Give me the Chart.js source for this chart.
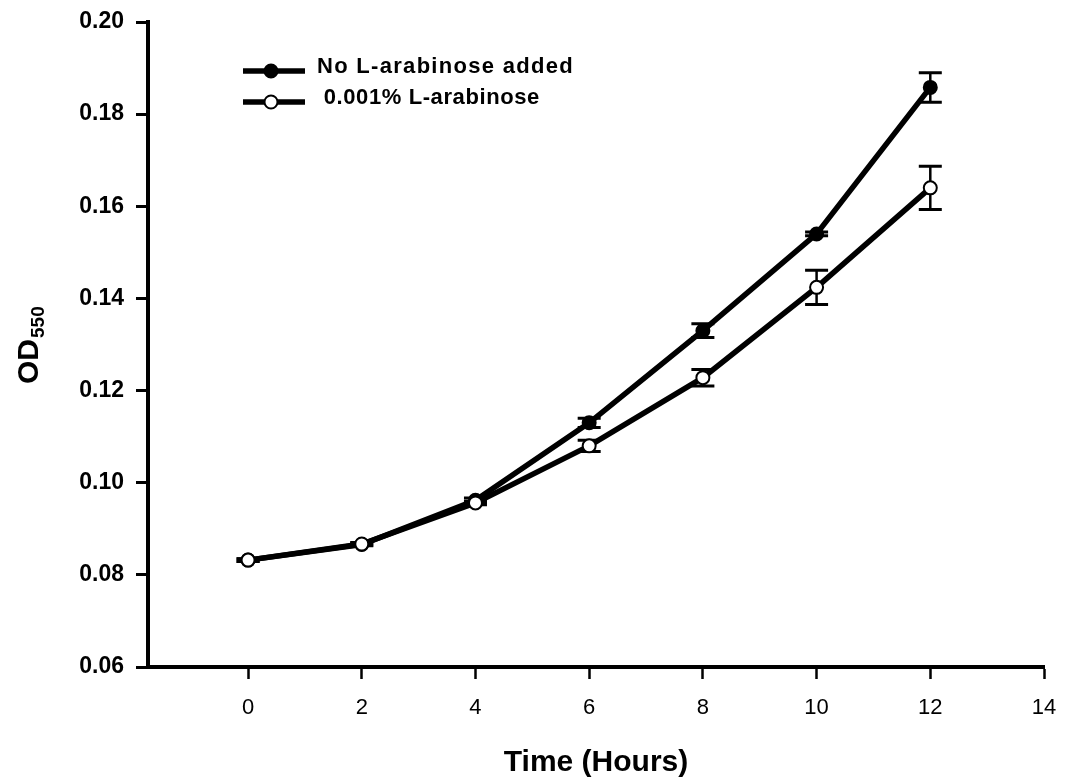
<!DOCTYPE html>
<html>
<head>
<meta charset="utf-8">
<script src="https://cdn.jsdelivr.net/npm/chart.js@4.4.1/dist/chart.umd.min.js"></script>
<style>
  html, body { margin: 0; padding: 0; background: #fff; }
  canvas { display: block; }
</style>
</head>
<body>
<canvas id="growth" width="1067" height="783"></canvas>
<script>
// Growth curve data (OD550 vs. time)
const TIME_H = [0, 2, 4, 6, 8, 10, 12];
const OD_NO_ARA = [0.0832, 0.0866, 0.0962, 0.1130, 0.1330, 0.1540, 0.1858];
const SD_NO_ARA = [0.0003, 0.0003, 0.0005, 0.0010, 0.0015, 0.0004, 0.0032];
const OD_ARA = [0.0832, 0.0867, 0.0956, 0.1080, 0.1228, 0.1424, 0.1640];
const SD_ARA = [0.0003, 0.0003, 0.0004, 0.0012, 0.0018, 0.0037, 0.0047];

const SERIES_LABELS = ['No L-arabinose added', ' 0.001% L-arabinose'];
const X_TICKS = [0, 2, 4, 6, 8, 10, 12, 14];
const Y_TICKS = [0.06, 0.08, 0.10, 0.12, 0.14, 0.16, 0.18, 0.20];

const FONT = "'Liberation Sans', Arial, sans-serif";

const toPoints = (ys) => TIME_H.map((t, i) => ({ x: t, y: ys[i] }));

// Vertical error bars with caps, drawn underneath the markers
const errorBars = {
  id: 'errorBars',
  beforeDatasetsDraw(chart) {
    const ctx = chart.ctx;
    const yScale = chart.scales.y;
    ctx.save();
    ctx.strokeStyle = '#000';
    chart.data.datasets.forEach((ds, di) => {
      const meta = chart.getDatasetMeta(di);
      meta.data.forEach((pt, i) => {
        const v = ds.data[i].y, e = ds.errors[i];
        const yTop = yScale.getPixelForValue(v + e);
        const yBot = yScale.getPixelForValue(v - e);
        ctx.lineWidth = 2.5;
        ctx.beginPath();
        ctx.moveTo(pt.x, yTop);
        ctx.lineTo(pt.x, yBot);
        ctx.stroke();
        ctx.lineWidth = 3;
        ctx.beginPath();
        ctx.moveTo(pt.x - 11.5, yTop);
        ctx.lineTo(pt.x + 11.5, yTop);
        ctx.moveTo(pt.x - 11.5, yBot);
        ctx.lineTo(pt.x + 11.5, yBot);
        ctx.stroke();
      });
    });
    ctx.restore();
  }
};

// Legend, axis titles (OD with subscript)
const annotations = {
  id: 'annotations',
  afterDraw(chart) {
    const ctx = chart.ctx;
    const area = chart.chartArea;
    ctx.save();
    ctx.fillStyle = '#000';
    ctx.strokeStyle = '#000';

    // legend entries
    const rows = [71, 102];
    chart.data.datasets.forEach((ds, i) => {
      const y = rows[i];
      ctx.lineWidth = 5.5;
      ctx.beginPath();
      ctx.moveTo(243, y);
      ctx.lineTo(305, y);
      ctx.stroke();
      ctx.beginPath();
      ctx.arc(271, y, 6.5, 0, Math.PI * 2);
      ctx.fillStyle = ds.pointBackgroundColor;
      ctx.fill();
      ctx.lineWidth = 2;
      ctx.stroke();
      ctx.fillStyle = '#000';
      ctx.font = `bold 22px ${FONT}`;
      ctx.textBaseline = 'alphabetic';
      ctx.textAlign = 'left';
      ctx.letterSpacing = i === 0 ? '1.3px' : '0.6px';
      ctx.fillText(SERIES_LABELS[i], 317, y + 2);
    });
    ctx.letterSpacing = '0px';

    // x title
    ctx.font = `bold 30px ${FONT}`;
    ctx.textAlign = 'center';
    ctx.fillText('Time (Hours)', (area.left + area.right) / 2, 771);

    // y title, rotated, with subscript
    ctx.translate(38, 384);
    ctx.rotate(-Math.PI / 2);
    ctx.textAlign = 'left';
    ctx.font = `bold 30px ${FONT}`;
    ctx.fillText('OD', 0, 0);
    const w = ctx.measureText('OD').width;
    ctx.font = `bold 19px ${FONT}`;
    ctx.fillText('550', w + 1, 6);
    ctx.restore();
  }
};

new Chart(document.getElementById('growth'), {
  type: 'line',
  data: {
    datasets: [
      {
        label: SERIES_LABELS[0],
        data: toPoints(OD_NO_ARA),
        errors: SD_NO_ARA,
        borderColor: '#000',
        borderWidth: 5.5,
        pointRadius: 6.5,
        pointBorderWidth: 2,
        pointBorderColor: '#000',
        pointBackgroundColor: '#000',
        fill: false,
        tension: 0,
        order: 1
      },
      {
        label: SERIES_LABELS[1],
        data: toPoints(OD_ARA),
        errors: SD_ARA,
        borderColor: '#000',
        borderWidth: 5.5,
        pointRadius: 6.5,
        pointBorderWidth: 2,
        pointBorderColor: '#000',
        pointBackgroundColor: '#fff',
        fill: false,
        tension: 0,
        order: 0
      }
    ]
  },
  options: {
    responsive: false,
    animation: false,
    devicePixelRatio: 1,
    layout: { padding: { top: 22, right: 23, left: 0, bottom: 0 } },
    plugins: {
      legend: { display: false },
      tooltip: { enabled: false }
    },
    scales: {
      x: {
        type: 'linear',
        min: -1.76,
        max: 14,
        afterBuildTicks: (s) => { s.ticks = X_TICKS.map(v => ({ value: v })); },
        afterFit: (s) => {
          s.height = 116;
          s.paddingLeft = 0;
          s.paddingRight = 0;
        },
        border: { color: '#000', width: 4 },
        grid: { drawOnChartArea: false, drawTicks: true, tickLength: 12, tickWidth: 2.5, tickColor: '#000', color: '#000' },
        ticks: {
          color: '#000',
          padding: 16,
          maxRotation: 0,
          font: { family: FONT, size: 22 }
        }
      },
      y: {
        min: 0.06,
        max: 0.20,
        afterBuildTicks: (s) => { s.ticks = Y_TICKS.map(v => ({ value: v })); },
        afterFit: (s) => {
          s.width = 148;
          s.paddingTop = 0;
          s.paddingBottom = 0;
        },
        border: { color: '#000', width: 4 },
        grid: { drawOnChartArea: false, drawTicks: true, tickLength: 12, tickWidth: 3, tickColor: '#000', color: '#000' },
        ticks: {
          color: '#000',
          padding: 12,
          callback: (v) => v.toFixed(2),
          font: { family: FONT, size: 23, weight: 'bold' }
        }
      }
    }
  },
  plugins: [errorBars, annotations]
});
</script>
</body>
</html>
